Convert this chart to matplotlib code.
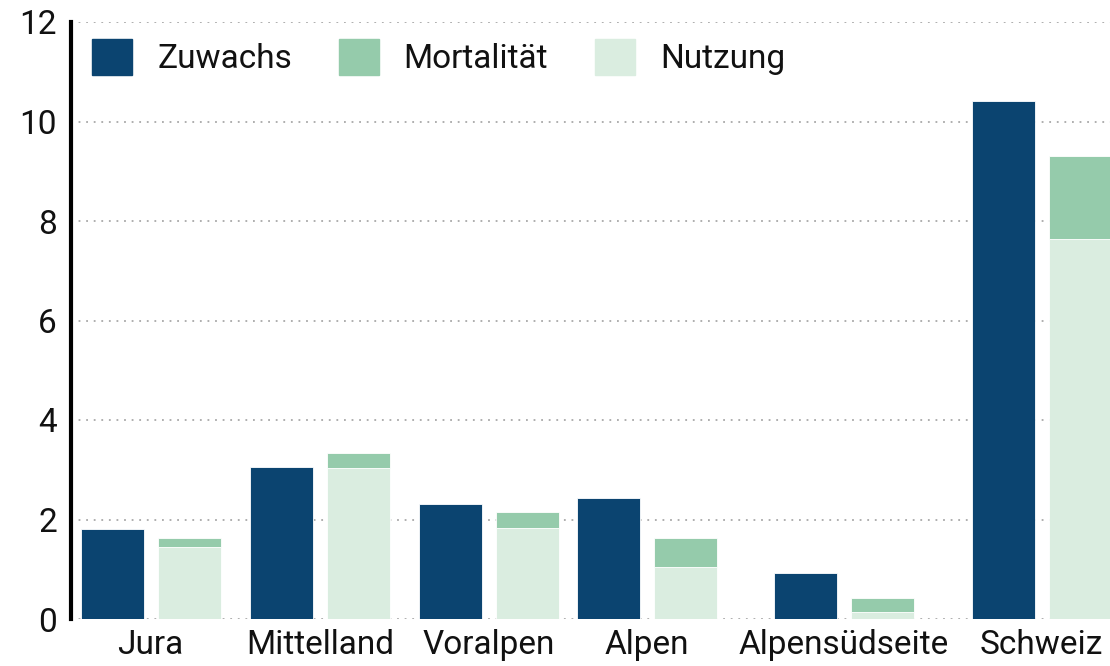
import numpy as np
import matplotlib.pyplot as plt
from matplotlib.patches import Patch

# data (Mio m3 per year)
regionen = ["Jura", "Mittelland", "Voralpen", "Alpen", "Alpensüdseite", "Schweiz"]
zuwachs = [1.81, 3.05, 2.31, 2.44, 0.92, 10.42]
nutzung = [1.45, 3.04, 1.82, 1.05, 0.14, 7.64]
mortalitaet = [0.17, 0.29, 0.33, 0.57, 0.29, 1.67]

# layout: group centres in pixel-like units along the x axis
centres = np.array([150.5, 320, 488.5, 647, 843.5, 1041.5])
offset = 38.5
width = 63

c_zuw = "#0b4470"
c_mort = "#95cbab"
c_nutz = "#daede0"

plt.rcParams['font.family'] = ['Roboto', 'DejaVu Sans']

fig = plt.figure(figsize=(11.1, 6.66), dpi=100)
ax = fig.add_axes([71/1110, 1-619/666, 1-71/1110, (619-22)/666])

ax.bar(centres - offset, zuwachs, width, color=c_zuw, edgecolor="white", linewidth=0.6, zorder=2)
ax.bar(centres + offset, nutzung, width, color=c_nutz, edgecolor="white", linewidth=0.6, zorder=2)
ax.bar(centres + offset, mortalitaet, width, bottom=nutzung, color=c_mort,
       edgecolor="white", linewidth=0.6, zorder=2)

ax.set_xlim(71, 1110)
ax.set_ylim(0, 12)
ax.set_yticks(np.arange(0, 13, 2))
ax.set_xticks(centres)
ax.set_xticklabels(regionen)
ax.tick_params(axis="both", length=0, labelsize=24, colors="#111111")
ax.tick_params(axis="y", pad=10)
ax.tick_params(axis="x", pad=7)

for y in np.arange(0, 13, 2):
    ax.axhline(y, color="#a8a8a8", linestyle=(0, (1, 3.2)), linewidth=1.3, zorder=1)

for s in ["top", "right", "bottom"]:
    ax.spines[s].set_visible(False)
ax.spines["left"].set_linewidth(3)
ax.spines["left"].set_color("black")

handles = [Patch(color=c_zuw, label="Zuwachs"),
           Patch(color=c_mort, label="Mortalität"),
           Patch(color=c_nutz, label="Nutzung")]
ax.legend(handles=handles, ncol=3, loc="upper left", bbox_to_anchor=(0.006, 0.997),
          frameon=False, fontsize=24, handlelength=1.2, handleheight=1.3,
          handletextpad=0.75, columnspacing=1.4, borderaxespad=0.05,
          labelcolor="#111111")

fig.savefig("out.png", dpi=100)
